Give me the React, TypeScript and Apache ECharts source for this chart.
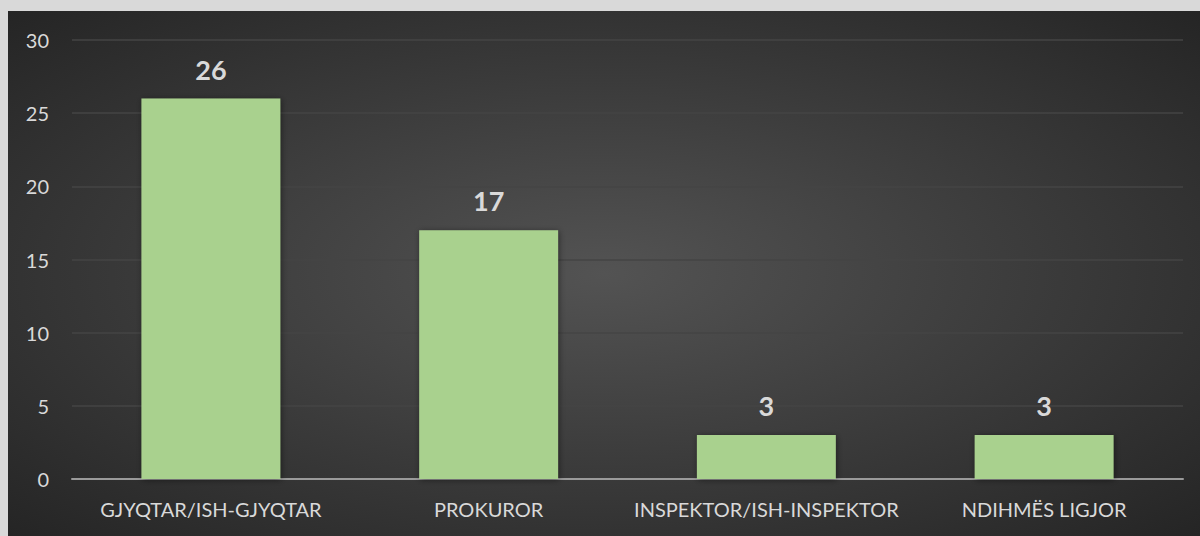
import React, { useEffect, useRef } from "react";
import * as echarts from "echarts";

const categories = ["GJYQTAR/ISH-GJYQTAR", "PROKUROR", "INSPEKTOR/ISH-INSPEKTOR", "NDIHMËS LIGJOR"];
const values = [26, 17, 3, 3];
const yTicks = { min: 0, max: 30, interval: 5 };

export default function App() {
  const ref = useRef<HTMLDivElement>(null);
  useEffect(() => {
    document.body.style.margin = "0";
    const chart = echarts.init(ref.current!, undefined, { renderer: "svg" });
    const font = "Lato, 'Open Sans', sans-serif";
    chart.setOption({
      animation: false,
      backgroundColor: new echarts.graphic.RadialGradient(0.5, 0.5, 0.75, [
        { offset: 0, color: "#535353" },
        { offset: 1, color: "#222222" },
      ]),
      grid: { left: 64, right: 17, top: 29, bottom: 57 },
      xAxis: {
        type: "category",
        data: categories,
        axisTick: { show: false },
        axisLine: { lineStyle: { color: "#9a9a9a", width: 2 } },
        axisLabel: { color: "#d9d9d9", fontSize: 20, fontFamily: font, margin: 20, interval: 0 },
      },
      yAxis: {
        type: "value",
        min: yTicks.min,
        max: yTicks.max,
        interval: yTicks.interval,
        axisLine: { show: false },
        axisTick: { show: false },
        splitLine: { lineStyle: { color: "#454545", width: 1.5 } },
        axisLabel: { color: "#d9d9d9", fontSize: 20, fontFamily: font, margin: 23 },
      },
      series: [
        {
          type: "bar",
          data: values,
          barWidth: "50%",
          itemStyle: {
            color: "#a9d18e",
            shadowColor: "rgba(0,0,0,0.45)",
            shadowBlur: 6,
            shadowOffsetX: 1,
            shadowOffsetY: 1,
          },
          label: {
            show: true,
            position: "top",
            distance: 16,
            color: "#d9d9d9",
            fontSize: 27,
            fontWeight: "bold",
            fontFamily: font,
          },
        },
      ],
    });
    return () => chart.dispose();
  }, []);
  return (
    <div style={{ width: 1200, height: 536, background: "#d9d9d9", position: "relative" }}>
      <div ref={ref} style={{ position: "absolute", left: 8, top: 11, width: 1192, height: 525 }} />
    </div>
  );
}
